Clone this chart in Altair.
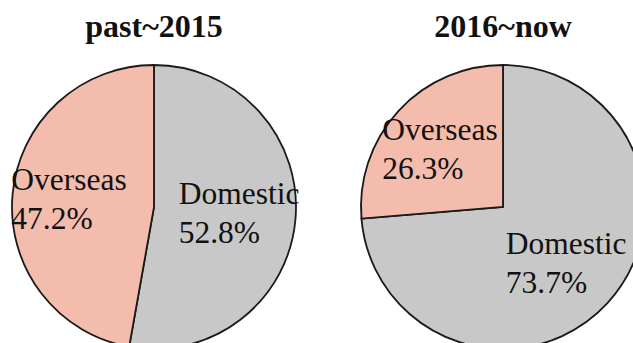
import altair as alt
import pandas as pd

periods = ["past~2015", "2016~now"]
categories = ["Domestic", "Overseas"]
domestic_share = [52.8, 73.7]
overseas_share = [47.2, 26.3]
colors = ["#C8C8C8", "#F4BCAC"]

rows = []
for i, p in enumerate(periods):
    for j, (c, v) in enumerate(zip(categories, [domestic_share[i], overseas_share[i]])):
        rows.append({"period": p, "category": c, "value": v, "ord": j,
                     "label": f"{c}\n{v:.1f}%"})
df = pd.DataFrame(rows)

centers_x = [154, 503]
center_y = 207
R = 142
FONT = "Liberation Serif"

layers = []
for p, cx in zip(periods, centers_x):
    base = alt.Chart(df).transform_filter(alt.datum.period == p).encode(
        theta=alt.Theta("value:Q", stack=True),
        order=alt.Order("ord:Q"),
        x=alt.value(cx),
        y=alt.value(center_y),
    )
    arc = base.mark_arc(outerRadius=R, stroke="#1a1a1a", strokeWidth=1.8).encode(
        color=alt.Color("category:N",
                        scale=alt.Scale(domain=categories, range=colors),
                        legend=None)
    )
    txt = base.mark_text(radius=84, align="left", dx=-59, dy=-10,
                         baseline="alphabetic", lineBreak="\n", font=FONT,
                         fontSize=31.5, lineHeight=39,
                         color="#111111").encode(
        text="label:N", detail="category:N"
    )
    layers += [arc, txt]

title_df = pd.DataFrame({"title": periods})
for p, cx in zip(periods, centers_x):
    t = alt.Chart(title_df).transform_filter(alt.datum.title == p).mark_text(
        font=FONT, fontSize=32, fontWeight="bold", align="center",
        baseline="alphabetic", color="#111111"
    ).encode(text="title:N", x=alt.value(cx), y=alt.value(37))
    layers.append(t)

chart = alt.layer(*layers).properties(
    width=633, height=343, autosize=alt.AutoSizeParams(type="none"),
    padding=0, background="white"
).configure_view(stroke=None)

chart.save("out.html", embed_options={"renderer": "svg", "actions": False})
